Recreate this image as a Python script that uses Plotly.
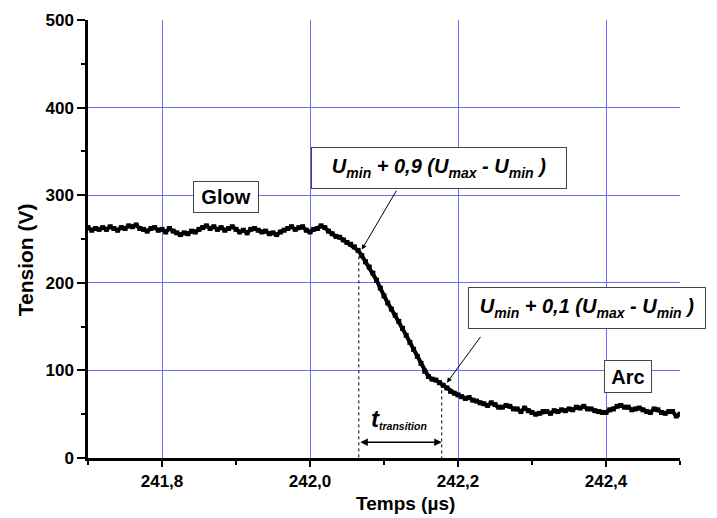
import plotly.graph_objects as go

# time (µs) and voltage (V)
temps_us = [
    241.700, 241.705, 241.710, 241.715, 241.720, 241.725, 241.730, 241.735, 241.740, 241.745,
    241.750, 241.755, 241.760, 241.765, 241.770, 241.775, 241.780, 241.785, 241.790, 241.795,
    241.800, 241.805, 241.810, 241.815, 241.820, 241.825, 241.830, 241.835, 241.840, 241.845,
    241.850, 241.855, 241.860, 241.865, 241.870, 241.875, 241.880, 241.885, 241.890, 241.895,
    241.900, 241.905, 241.910, 241.915, 241.920, 241.925, 241.930, 241.935, 241.940, 241.945,
    241.950, 241.955, 241.960, 241.965, 241.970, 241.975, 241.980, 241.985, 241.990, 241.995,
    242.000, 242.005, 242.010, 242.015, 242.020, 242.025, 242.030, 242.035, 242.040, 242.045,
    242.050, 242.055, 242.060, 242.065, 242.070, 242.075, 242.080, 242.085, 242.090, 242.095,
    242.100, 242.105, 242.110, 242.115, 242.120, 242.125, 242.130, 242.135, 242.140, 242.145,
    242.150, 242.155, 242.160, 242.165, 242.170, 242.175, 242.180, 242.185, 242.190, 242.195,
    242.200, 242.205, 242.210, 242.215, 242.220, 242.225, 242.230, 242.235, 242.240, 242.245,
    242.250, 242.255, 242.260, 242.265, 242.270, 242.275, 242.280, 242.285, 242.290, 242.295,
    242.300, 242.305, 242.310, 242.315, 242.320, 242.325, 242.330, 242.335, 242.340, 242.345,
    242.350, 242.355, 242.360, 242.365, 242.370, 242.375, 242.380, 242.385, 242.390, 242.395,
    242.400, 242.405, 242.410, 242.415, 242.420, 242.425, 242.430, 242.435, 242.440, 242.445,
    242.450, 242.455, 242.460, 242.465, 242.470, 242.475, 242.480, 242.485, 242.490, 242.495,
    242.500,
]
tension_v = [
    263, 260, 262, 261, 263, 261, 264, 262, 260, 263,
    262, 265, 264, 266, 262, 261, 259, 262, 263, 260,
    261, 258, 262, 259, 257, 255, 257, 256, 259, 258,
    261, 263, 265, 262, 264, 261, 263, 260, 262, 264,
    261, 258, 260, 257, 261, 262, 260, 258, 259, 256,
    257, 255, 258, 260, 262, 264, 261, 263, 264, 260,
    258, 261, 262, 265, 263, 259, 256, 253, 252, 249,
    246, 244, 241, 237, 231, 224, 218, 211, 203, 194,
    185, 177, 170, 163, 156, 148, 140, 132, 124, 116,
    108, 99, 93, 90, 89, 86, 83, 80, 76, 74,
    72, 70, 68, 69, 66, 65, 63, 62, 60, 63,
    61, 58, 58, 60, 59, 56, 56, 53, 57, 54,
    52, 50, 51, 53, 53, 51, 54, 53, 55, 54,
    56, 55, 58, 57, 59, 56, 56, 54, 53, 52,
    52, 55, 56, 59, 60, 58, 58, 55, 56, 57,
    55, 53, 52, 56, 55, 52, 51, 53, 53, 48,
    50,
]

x_range = [241.7, 242.5]
y_range = [0, 500]
x_ticks = [241.8, 242.0, 242.2, 242.4]
x_ticklabels = ["241,8", "242,0", "242,2", "242,4"]
y_ticks = [0, 100, 200, 300, 400, 500]

# transition markers: (time, voltage) at 90 % and 10 % levels
t_90, u_90 = 242.066, 237
t_10, u_10 = 242.178, 84
arrow_y = 18

FONT = "Arial, Liberation Sans, sans-serif"
GRID = "#6b6bff"
BOX = dict(showarrow=False, bordercolor="#444", borderwidth=1, bgcolor="white")

fig = go.Figure()
fig.add_scatter(
    x=temps_us,
    y=tension_v,
    mode="lines+markers",
    line=dict(color="black", width=4),
    marker=dict(color="black", size=5, symbol="square"),
    showlegend=False,
    hoverinfo="skip",
)

# dotted verticals down to the axis
for t, u in [(t_90, u_90), (t_10, u_10)]:
    fig.add_shape(
        type="line", xref="x", yref="y", x0=t, x1=t, y0=u, y1=0,
        line=dict(color="black", width=1, dash="dot"),
    )

u_text = "<b><i>U<sub>min</sub> + {} (U<sub>max</sub> - U<sub>min</sub> )</i></b>"
annotations = [
    # boxed labels
    dict(x=241.886, y=298, text="<b>Glow</b>", font=dict(size=20),
         width=58, height=24, borderpad=3, **BOX),
    dict(x=242.43, y=92.5, text="<b>Arc</b>", font=dict(size=20),
         width=40, height=25, borderpad=3, **BOX),
    dict(x=242.174, y=331, text=u_text.format("0,9"), font=dict(size=20),
         width=244, height=30, borderpad=5, **BOX),
    dict(x=242.374, y=171, text=u_text.format("0,1"), font=dict(size=20),
         width=226, height=30, borderpad=5, **BOX),
    # arrows from boxes to the curve
    dict(x=242.07, y=238, ax=242.118, ay=307, axref="x", ayref="y", text="",
         showarrow=True, arrowhead=2, arrowsize=1, arrowwidth=1, arrowcolor="black"),
    dict(x=242.185, y=86, ax=242.232, ay=140, axref="x", ayref="y", text="",
         showarrow=True, arrowhead=2, arrowsize=1, arrowwidth=1, arrowcolor="black"),
    # transition time double arrow
    dict(x=t_10, y=arrow_y, ax=t_90, ay=arrow_y, axref="x", ayref="y", text="",
         showarrow=True, arrowhead=2, startarrowhead=2, arrowside="end+start",
         arrowsize=1, arrowwidth=1.5, arrowcolor="black"),
    dict(x=242.12, y=45,
         text="<b><i><span style='font-size:24px'>t</span><sub>transition</sub></i></b>",
         font=dict(size=15), showarrow=False),
    # axis titles
    dict(xref="paper", yref="paper", x=-0.106, y=0.452, text="<b>Tension (V)</b>",
         textangle=-90, font=dict(size=21), showarrow=False,
         xanchor="center", yanchor="middle"),
    dict(xref="paper", yref="paper", x=0.537, y=-0.103, text="<b>Temps (µs)</b>",
         font=dict(size=19), showarrow=False, xanchor="center", yanchor="middle"),
]
fig.update_layout(annotations=annotations)

fig.update_xaxes(
    range=x_range,
    tickvals=x_ticks,
    ticktext=x_ticklabels,
    ticks="outside", ticklen=6, tickwidth=2, tickcolor="black",
    minor=dict(dtick=0.1, tick0=241.7, ticks="outside", ticklen=4, tickwidth=2,
               tickcolor="black", showgrid=False),
    showline=True, linecolor="black", linewidth=2.5,
    showgrid=True, gridcolor=GRID, gridwidth=1,
    zeroline=False,
    tickfont=dict(size=17, family=FONT, color="black", weight="bold"),
)
fig.update_yaxes(
    range=y_range,
    tickvals=y_ticks,
    ticks="outside", ticklen=8, tickwidth=2, tickcolor="black",
    minor=dict(dtick=50, ticks="outside", ticklen=4, tickwidth=2,
               tickcolor="black", showgrid=False),
    showline=True, linecolor="black", linewidth=2.5,
    showgrid=True, gridcolor=GRID, gridwidth=1,
    zeroline=False,
    tickfont=dict(size=17, family=FONT, color="black", weight="bold"),
)

fig.update_layout(
    width=717,
    height=518,
    margin=dict(l=88, r=37, t=20, b=60, autoexpand=False),
    paper_bgcolor="white",
    plot_bgcolor="white",
    font=dict(family=FONT, color="black"),
)

fig.write_html(
    "out.html",
    config={"displayModeBar": False},
    post_script="document.body.style.margin='0px';",
)
